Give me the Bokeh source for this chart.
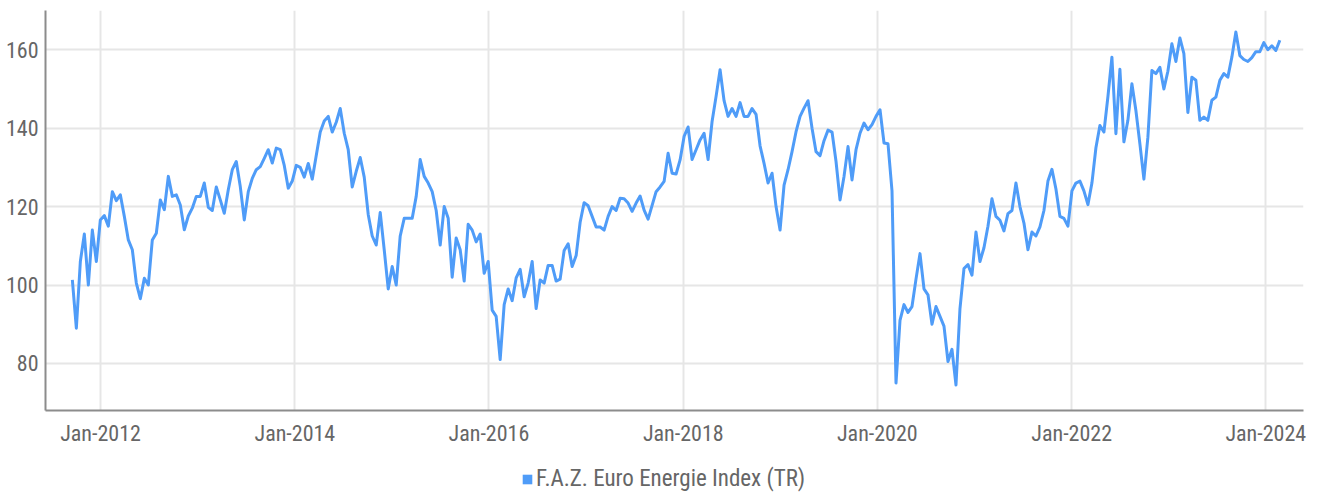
from datetime import datetime
import pandas as pd
from bokeh.plotting import figure
from bokeh.layouts import column
from bokeh.models import (Range1d, FixedTicker, DatetimeTickFormatter, Legend,
                          LegendItem, ColumnDataSource)
from bokeh.embed import file_html
from bokeh.resources import INLINE

# ---- data (evenly spaced readings) ----
series_name = "F.A.Z. Euro Energie Index (TR)"
first_date = "2011-09-17"
last_date = "2024-02-23"
index_values = [
    101.3, 89, 106, 113, 100, 114, 106, 116.6, 117.7, 115,
    123.8, 121.5, 123, 117.5, 111.5, 109, 100.5, 96.5, 101.7, 100,
    111.5, 113.2, 121.7, 119.2, 127.7, 122.6, 123, 120.4, 114.1, 117.6,
    119.6, 122.6, 122.6, 126, 119.8, 119, 125, 121.7, 118.3, 124.3,
    129.4, 131.5, 125.1, 116.6, 123.8, 127.2, 129.4, 130.2, 132.3, 134.5,
    131.1, 134.9, 134.5, 130.5, 124.7, 126.5, 130.5, 130, 127.5, 131,
    127, 133, 139, 141.8, 143, 139, 141.5, 145, 138.7, 134.5,
    125, 129, 132.5, 127.5, 118, 112.5, 110.2, 118.5, 109, 99,
    104.7, 100, 112.5, 117, 117, 117, 122.6, 132, 127.7, 126,
    123.8, 119, 110.2, 120, 117, 102, 112, 109, 101, 115.5,
    114, 111, 113, 103, 106, 93.6, 92, 81, 95, 99,
    96, 101.8, 104, 97, 100.5, 106, 94, 101.3, 100.5, 105,
    105, 101, 101.5, 108.8, 110.5, 104.7, 107.5, 116, 121, 120.2,
    117.5, 114.8, 114.8, 114, 117.5, 120, 119, 122.1, 122, 120.9,
    118.8, 120.9, 122.7, 119.1, 116.8, 120.3, 123.8, 125, 126.4, 133.6,
    128.5, 128.3, 131.9, 137.9, 140.3, 132, 134.5, 137, 138.7, 132,
    141.7, 148.1, 154.9, 147, 143, 145, 143, 146.5, 143, 143,
    145, 143.5, 135.5, 131, 126, 128.5, 120, 114, 125.5, 129.4,
    134, 139.1, 143, 145.1, 147, 140, 134, 133, 136.8, 139.5,
    139, 131.5, 121.7, 127.7, 135.3, 126.8, 134.5, 138.7, 141.3, 139.6,
    140.9, 143, 144.7, 136.2, 136, 124, 75, 91, 95, 93,
    94.5, 101.5, 108, 99, 97.5, 90, 94.5, 92, 89.5, 80.5,
    83.6, 74.5, 94, 104.2, 105.2, 102.5, 113.5, 106, 109.5, 115,
    122, 117.5, 116.5, 113.8, 118.2, 119, 126, 120, 115.8, 109,
    113.5, 112.5, 114.8, 119, 126.5, 129.5, 124.5, 117.5, 117, 115,
    124, 126, 126.5, 124, 120.5, 126, 135, 140.7, 139, 148,
    158.1, 138.6, 155, 136.5, 142, 151.3, 144.5, 136, 127, 137.7,
    154.7, 153.9, 155.5, 150, 154.5, 161.5, 157, 163, 159, 144,
    153, 152.2, 142, 142.8, 142, 147.1, 147.9, 152.2, 153.9, 153,
    158.1, 164.5, 158.5, 157.5, 157, 158, 159.5, 159.5, 161.8, 160,
    161, 159.8, 162.4,
]
y_ticks = [80, 100, 120, 140, 160]
x_tick_years = [2012, 2014, 2016, 2018, 2020, 2022, 2024]

dates = pd.date_range(first_date, last_date, periods=len(index_values))
source = ColumnDataSource(data=dict(date=dates, value=index_values))

LINE_COLOR = "#4f9cf8"
TEXT_COLOR = "#666666"
FONT = "Roboto Condensed"

p = figure(
    x_axis_type="datetime",
    frame_width=1258, frame_height=400,
    x_range=Range1d(datetime(2011, 6, 8), datetime(2024, 5, 22)),
    y_range=Range1d(68, 170),
    output_backend="svg", toolbar_location=None,
    min_border_left=45, min_border_right=18, min_border_top=10,
    min_border_bottom=46,
)
p.outline_line_color = None
p.background_fill_color = "white"

p.line("date", "value", source=source, line_color=LINE_COLOR,
       line_width=3, line_join="round")

# axes
tick_ms = [datetime(y, 1, 1).timestamp() * 1000 for y in x_tick_years]
p.xaxis.ticker = FixedTicker(ticks=tick_ms)
fmt = "%b-%Y"
p.xaxis.formatter = DatetimeTickFormatter(years=fmt, months=fmt, days=fmt,
                                          hours=fmt, minutes=fmt, seconds=fmt)
p.yaxis.ticker = FixedTicker(ticks=y_ticks)

for ax in (p.xaxis, p.yaxis):
    ax.axis_line_color = "#8c8c8c"
    ax.axis_line_width = 2
    ax.major_tick_line_color = None
    ax.minor_tick_line_color = None
    ax.major_tick_out = 0
    ax.major_tick_in = 0
    ax.minor_tick_out = 0
    ax.minor_tick_in = 0
    ax.major_label_text_font = FONT
    ax.major_label_text_font_size = "22px"
    ax.major_label_text_color = TEXT_COLOR
p.xaxis.major_label_standoff = 10
p.yaxis.major_label_standoff = 7

for g in (p.xgrid, p.ygrid):
    g.grid_line_color = "#e6e6e6"
    g.grid_line_width = 2

# ---- legend strip below the chart ----
pl = figure(width=1321, height=36, x_range=Range1d(0, 1), y_range=Range1d(0, 1),
            x_axis_location=None, y_axis_location=None,
            output_backend="svg", toolbar_location=None, min_border=0)
pl.outline_line_color = None
pl.xgrid.visible = False
pl.ygrid.visible = False
nan = float("nan")
r_sq = pl.quad(left=[nan], right=[nan], top=[nan], bottom=[nan],
               fill_color=LINE_COLOR, line_color=None)
legend = Legend(items=[LegendItem(label=series_name, renderers=[r_sq])],
                location=(476, 0), orientation="horizontal",
                glyph_width=12, glyph_height=12, label_standoff=3,
                label_text_font=FONT, label_text_font_size="23px",
                label_text_color=TEXT_COLOR,
                border_line_color=None, background_fill_alpha=0,
                padding=0, margin=0, spacing=0)
pl.add_layout(legend, "center")

layout = column(p, pl, spacing=0)
open("out.html", "w").write(file_html(layout, INLINE))
